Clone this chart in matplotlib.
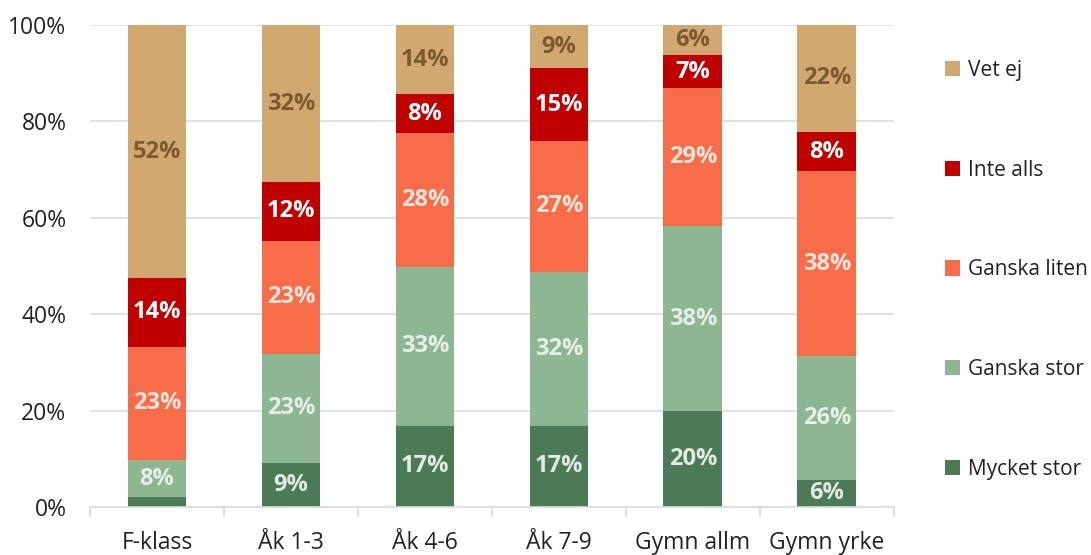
import numpy as np
import matplotlib.pyplot as plt

plt.rcParams['font.family'] = ['Open Sans', 'DejaVu Sans']

# Data (percent)
categories = ["F-klass", "Åk 1-3", "Åk 4-6", "Åk 7-9", "Gymn allm", "Gymn yrke"]
series_names = ["Mycket stor", "Ganska stor", "Ganska liten", "Inte alls", "Vet ej"]
mycket_stor = [2.0, 9.1, 16.9, 16.9, 19.9, 5.7]
ganska_stor = [7.8, 22.7, 32.9, 31.8, 38.4, 25.6]
ganska_liten = [23.4, 23.4, 27.7, 27.3, 28.6, 38.4]
inte_alls = [14.3, 12.3, 8.1, 15.0, 6.8, 8.1]
vet_ej = [52.4, 32.4, 14.4, 9.0, 6.3, 22.2]

colors = ["#4D7A56", "#8DB693", "#F76D4A", "#C00000", "#D2A871"]
label_colors = ["#E3ECE3", "#E6EFE6", "#FDE6DC", "#FFFFFF", "#7A5A2E"]

series = [mycket_stor, ganska_stor, ganska_liten, inte_alls, vet_ej]

fig = plt.figure(figsize=(10.91, 5.55), dpi=100)
ax = fig.add_axes([0.0825, 0.0865, 0.7369, 0.8685])

x = np.arange(len(categories))
bottom = np.zeros(len(categories))
handles = []
for vals, name, col, lcol in zip(series, series_names, colors, label_colors):
    vals = np.array(vals)
    b = ax.bar(x, vals, bottom=bottom, width=0.44, color=col, label=name, zorder=3)
    handles.append(b)
    for xi, v, bt in zip(x, vals, bottom):
        if v >= 4:
            ax.text(xi, bt + v / 2, f"{round(v):.0f}%", ha="center", va="center",
                    color=lcol, fontsize=17, fontweight="bold", zorder=4)
    bottom += vals

ax.set_xlim(-0.5, len(categories) - 0.5)
ax.set_ylim(0, 100)
ax.set_yticks(np.arange(0, 101, 20))
ax.set_yticklabels([f"{v}%" for v in range(0, 101, 20)])
ax.yaxis.grid(True, color="#D5DDE0", linewidth=1.2, zorder=0)
ax.tick_params(axis="y", length=0, pad=17, labelsize=16.5, labelcolor="#222222")

ax.set_xticks(x)
ax.set_xticklabels(categories)
ax.set_xticks(np.arange(-0.5, len(categories), 1), minor=True)
ax.tick_params(axis="x", which="major", length=0, pad=17, labelsize=16.5, labelcolor="#222222")
ax.tick_params(axis="x", which="minor", length=7, width=1.2, color="#D5DDE0")

for s in ["top", "right", "left"]:
    ax.spines[s].set_visible(False)
ax.spines["bottom"].set_color("#D5DDE0")
ax.spines["bottom"].set_linewidth(1.2)
ax.spines["bottom"].set_zorder(5)

leg = ax.legend(handles[::-1], series_names[::-1], loc="center left",
                bbox_to_anchor=(1.04, 0.492), frameon=False, fontsize=15,
                handlelength=0.75, handleheight=0.75, handletextpad=0.35,
                labelspacing=3.78, labelcolor="#222222")

fig.savefig("out.png", dpi=100)
